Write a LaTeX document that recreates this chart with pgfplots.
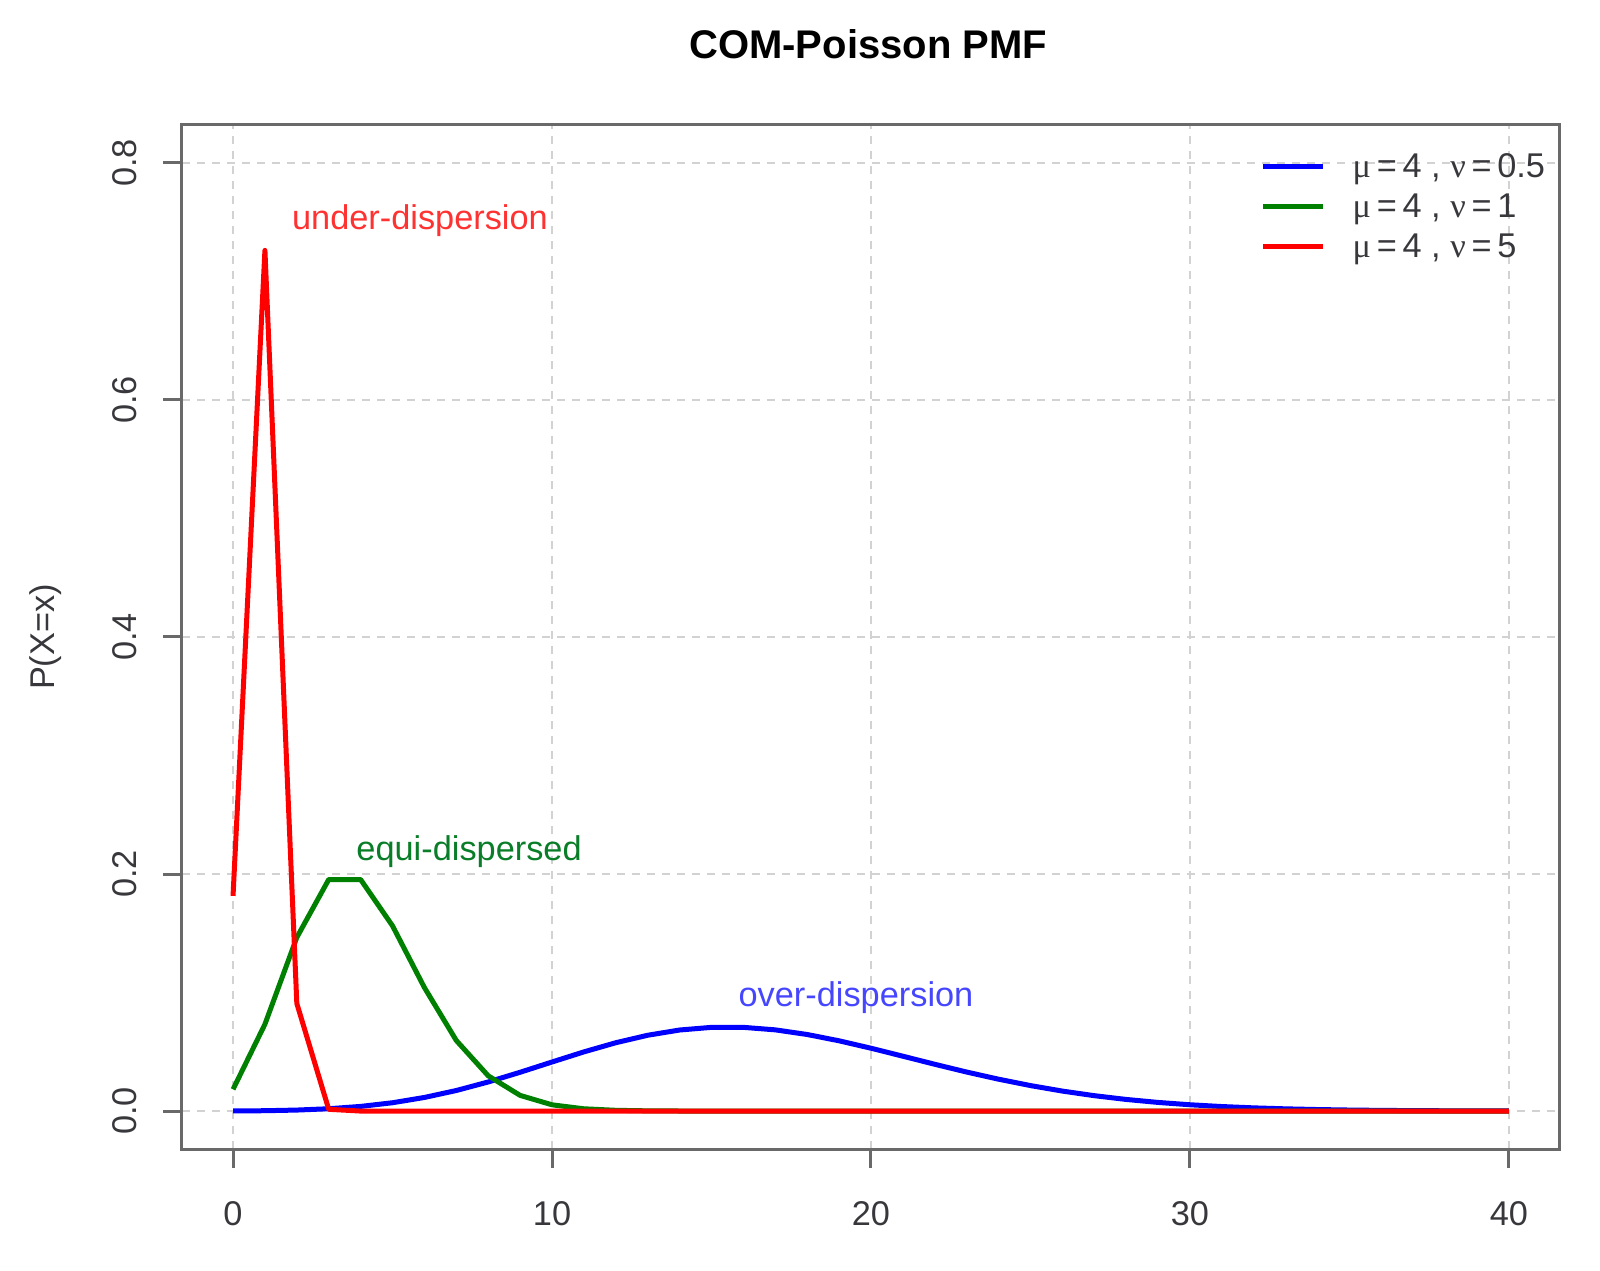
\documentclass[border=0pt]{standalone}
\usepackage{fontspec}
\setmainfont{Liberation Sans}
\newfontfamily\greekfont{Liberation Serif}
\usepackage{pgfplots}
\pgfplotsset{compat=1.18}

\definecolor{axgray}{RGB}{105,105,105}
\definecolor{lblgray}{RGB}{55,55,60}
\definecolor{gridgray}{RGB}{210,210,210}
\definecolor{cblue}{RGB}{0,0,255}
\definecolor{cgreen}{RGB}{0,128,0}
\definecolor{cred}{RGB}{255,0,0}

% COM-Poisson probabilities P(X=x), x = 0..40
\pgfplotstableread{
x  p
0  0.0000752
1  0.000301
2  0.000851
3  0.001965
4  0.003931
5  0.007032
6  0.011484
7  0.017361
8  0.024554
9  0.032737
10 0.041408
11 0.049943
12 0.057666
13 0.063976
14 0.068393
15 0.070636
16 0.070636
17 0.068527
18 0.064608
19 0.059288
20 0.053030
21 0.046288
22 0.039475
23 0.032924
24 0.026882
25 0.021507
26 0.016870
27 0.012988
28 0.009818
29 0.007291
30 0.005324
31 0.003825
32 0.002705
33 0.001884
34 0.001292
35 0.000874
36 0.000582
37 0.000383
38 0.000248
39 0.000159
40 0.000101
}\nuhalf

\pgfplotstableread{
x  p
0  0.018316
1  0.073263
2  0.146525
3  0.195367
4  0.195367
5  0.156293
6  0.104196
7  0.059540
8  0.029770
9  0.013231
10 0.005292
11 0.001925
12 0.000642
13 0.000197
14 0.0000564
15 0.0000150
16 0.0000038
17 0.0000009
18 0
19 0
20 0
21 0
22 0
23 0
24 0
25 0
26 0
27 0
28 0
29 0
30 0
31 0
32 0
33 0
34 0
35 0
36 0
37 0
38 0
39 0
40 0
}\nuone

\pgfplotstableread{
x  p
0  0.18155
1  0.72619
2  0.09077
3  0.001494
4  0.0000058
5  0
6  0
7  0
8  0
9  0
10 0
11 0
12 0
13 0
14 0
15 0
16 0
17 0
18 0
19 0
20 0
21 0
22 0
23 0
24 0
25 0
26 0
27 0
28 0
29 0
30 0
31 0
32 0
33 0
34 0
35 0
36 0
37 0
38 0
39 0
40 0
}\nufive

\newcommand{\txtsize}{\fontsize{10.3}{12}\selectfont}
\newcommand{\leg}[1]{{\greekfont μ}\,=\,4 , {\greekfont ν}\,=\,#1}

\begin{document}
\begin{tikzpicture}
\useasboundingbox (-54.6pt,-36.3pt) rectangle (425.4pt,344.7pt);
\begin{axis}[
  at={(0pt,0pt)}, anchor=south west,
  scale only axis, width=413.4pt, height=307.2pt,
  xmin=-1.6, xmax=41.6, ymin=-0.032, ymax=0.832,
  xtick={0,10,20,30,40},
  ytick={0,0.2,0.4,0.6,0.8},
  yticklabels={0.0,0.2,0.4,0.6,0.8},
  tick pos=left,
  tick align=outside,
  major tick length=5.7pt,
  tick style={axgray, line width=0.9pt},
  axis line style={axgray, line width=0.9pt},
  grid=major,
  major grid style={gridgray, line width=0.6pt, dash pattern=on 2.4pt off 2.1pt},
  /pgf/number format/assume math mode=true,
  ticklabel style={font=\txtsize, text=lblgray},
  xticklabel style={anchor=center, yshift=-13.7pt},
  yticklabel style={xshift=-11.6pt, rotate=90, anchor=center},
  title={COM-Poisson PMF},
  title style={at={(0.498,1.059)}, anchor=center, font=\bfseries\fontsize{12}{14}\selectfont},
  ylabel={P(X=x)},
  ylabel style={at={(-0.0987,0.5)}, anchor=center, font=\txtsize, text=lblgray},
  legend style={draw=none, fill=none, at={(0.7823,0.9717)}, anchor=north west,
    inner sep=0pt, font=\txtsize, text=lblgray, row sep=3.0pt, column sep=8.1pt,
    nodes={inner sep=0pt, text height=7pt, text depth=2pt}},
  legend cell align=left,
  legend image code/.code={\draw[#1, line width=1.5pt] (0pt,0.9pt) -- (18pt,0.9pt);},
  every axis plot/.append style={line width=1.5pt, line join=round},
]
\addplot[cblue] table[x=x, y=p] {\nuhalf};
\addlegendentry{\leg{0.5}}
\addplot[cgreen] table[x=x, y=p] {\nuone};
\addlegendentry{\leg{1}}
\addplot[cred] table[x=x, y=p] {\nufive};
\addlegendentry{\leg{5}}

\node[font=\txtsize, text={rgb,255:red,255;green,50;blue,50}] at (axis cs:5.86,0.751) {under-dispersion};
\node[font=\txtsize, text={rgb,255:red,10;green,125;blue,40}] at (axis cs:7.40,0.219) {equi-dispersed};
\node[font=\txtsize, text={rgb,255:red,70;green,70;blue,255}] at (axis cs:19.53,0.0954) {over-dispersion};
\end{axis}
\end{tikzpicture}
\end{document}
